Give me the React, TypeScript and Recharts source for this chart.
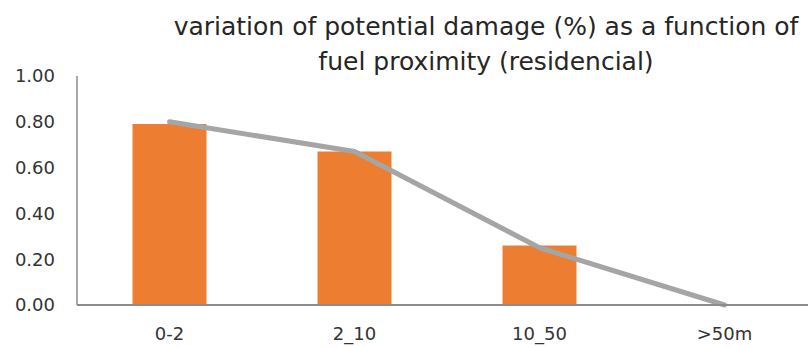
import React from "react";
import { ComposedChart, Bar, Line, XAxis, YAxis } from "recharts";

const categories = ["0-2", "2_10", "10_50", ">50m"];
const barValues = [0.79, 0.67, 0.26, 0];
const lineValues = [0.8, 0.67, 0.25, 0];
const yTicks = [0, 0.2, 0.4, 0.6, 0.8, 1.0];
const titleLines = [
  "variation of potential damage (%) as a function of",
  "fuel proximity (residencial)",
];

const data = categories.map((c, i) => ({
  name: c,
  bar: barValues[i],
  line: lineValues[i],
}));

const FONT = "'DejaVu Sans', sans-serif";

export default function App() {
  return (
    <div
      style={{
        position: "absolute",
        left: 0,
        top: 0,
        width: 808,
        height: 347,
        overflow: "hidden",
        background: "#fff",
      }}
    >
      <ComposedChart
        width={820}
        height={347}
        data={data}
        margin={{ top: 76, right: 3, bottom: 0, left: 0 }}
        barCategoryGap="30%"
      >
        <XAxis
          dataKey="name"
          height={42}
          tickLine={false}
          tickSize={6}
          tickMargin={16}
          axisLine={{ stroke: "#8c8c8c", strokeWidth: 2 }}
          tick={{ fill: "#333333", fontSize: 18, fontFamily: FONT }}
          interval={0}
        />
        <YAxis
          width={77}
          domain={[0, 1]}
          ticks={yTicks}
          tickFormatter={(v: number) => v.toFixed(2)}
          tickLine={false}
          tickSize={6}
          tickMargin={16}
          axisLine={{ stroke: "#8c8c8c", strokeWidth: 1.5 }}
          tick={{ fill: "#333333", fontSize: 18, fontFamily: FONT }}
          interval={0}
        />
        <Bar dataKey="bar" fill="#ed7d31" isAnimationActive={false} />
        <Line
          dataKey="line"
          type="linear"
          stroke="#a5a5a5"
          strokeWidth={5}
          strokeLinejoin="round"
          strokeLinecap="round"
          dot={false}
          activeDot={false}
          isAnimationActive={false}
        />
      </ComposedChart>
      {titleLines.map((t, i) => (
        <div
          key={i}
          style={{
            position: "absolute",
            left: 486,
            top: i === 0 ? 12 : 47,
            transform: "translateX(-50%)",
            whiteSpace: "nowrap",
            fontFamily: FONT,
            fontSize: 25,
            lineHeight: "29px",
            color: "#262626",
          }}
        >
          {t}
        </div>
      ))}
    </div>
  );
}
